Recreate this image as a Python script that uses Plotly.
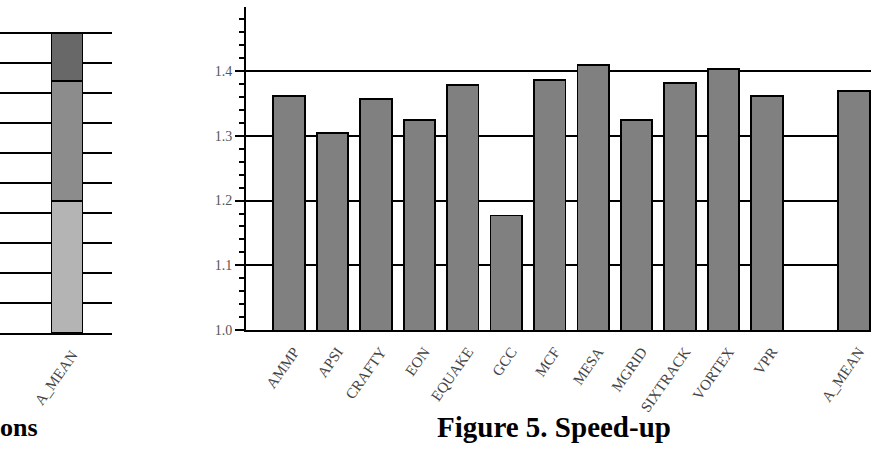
import plotly.graph_objects as go

# Main chart: Figure 5. Speed-up
categories = ["AMMP", "APSI", "CRAFTY", "EON", "EQUAKE", "GCC", "MCF", "MESA",
              "MGRID", "SIXTRACK", "VORTEX", "VPR", " ", "A_MEAN"]
speedup = [1.362, 1.305, 1.357, 1.325, 1.379, 1.177, 1.386, 1.410,
           1.324, 1.382, 1.403, 1.362, None, 1.369]
y_ticks = [1.0, 1.1, 1.2, 1.3, 1.4]

# Left (partially visible) stacked chart
left_categories = ["A_MEAN"]
left_bottom = [44]
left_middle = [40]
left_top = [16]

W, H = 871, 453
FONT = "Liberation Serif"

def px_x(p):
    return p / W

def px_y(p):
    return 1 - p / H

fig = go.Figure()

for vals, col, name in [(left_bottom, "#b4b4b4", "Part 1"),
                        (left_middle, "#8c8c8c", "Part 2"),
                        (left_top, "#686868", "Part 3")]:
    fig.add_trace(go.Bar(x=left_categories, y=vals, marker=dict(color=col, line=dict(color="black", width=1.8)),
                         width=0.71, xaxis="x", yaxis="y", name=name, showlegend=False))

fig.add_trace(go.Bar(x=categories, y=speedup, width=0.725,
                     marker=dict(color="#808080", line=dict(color="black", width=1.8)),
                     xaxis="x2", yaxis="y2", showlegend=False, name="Speed-up"))

unit = 43.45
main_left_px = 246
main_base_px = 336
per01 = 65.9
ytop_val = 1.4995
main_top_px = main_base_px - (ytop_val - 1.0) * 10 * per01

left_right_px = 112
left_base_px = 339.3
left_top_px = 33.3
left_ymax = 101.5
left_top_edge = left_base_px - (left_base_px - left_top_px) * left_ymax / 100

fig.update_layout(
    width=W, height=H,
    margin=dict(l=0, r=0, t=0, b=0),
    paper_bgcolor="white", plot_bgcolor="white",
    barmode="stack",
    showlegend=False,
    font=dict(family=FONT, color="#333333", size=15),
    xaxis=dict(domain=[0, px_x(left_right_px)], range=[-67 / unit, (left_right_px - 67) / unit],
               showline=True, linecolor="black", linewidth=2, showgrid=False, ticks="",
               tickangle=-55, tickfont=dict(family=FONT, size=15, color="#444444"),
               ticklabelstandoff=5, ticklabelshift=5,
               anchor="y", fixedrange=True),
    yaxis=dict(domain=[px_y(left_base_px), px_y(left_top_edge)], range=[0, left_ymax],
               tickvals=[0, 10, 20, 30, 40, 50, 60, 70, 80, 90, 100],
               showgrid=True, gridcolor="black", gridwidth=1.5,
               showticklabels=False, ticks="", showline=False, zeroline=False,
               anchor="x"),
    xaxis2=dict(domain=[px_x(main_left_px), 1], range=[-0.99, -0.99 + (W - main_left_px) / unit],
                showline=True, linecolor="black", linewidth=2, showgrid=False, ticks="",
                tickangle=-55, tickfont=dict(family=FONT, size=15, color="#444444"),
                ticklabelstandoff=5, ticklabelshift=5,
                anchor="y2"),
    yaxis2=dict(domain=[px_y(main_base_px), px_y(main_top_px)], range=[1.0, ytop_val],
                tickvals=y_ticks, tickformat=".1f", showgrid=True, gridcolor="black", gridwidth=1.5,
                showline=True, linecolor="black", linewidth=2, zeroline=False,
                ticks="outside", ticklen=9, tickwidth=1.5, tickcolor="black",
                minor=dict(dtick=0.02, tick0=1.0, ticks="outside", ticklen=5, tickwidth=1.5,
                           tickcolor="black", showgrid=False),
                tickfont=dict(family=FONT, size=14, color="#555555"),
                anchor="x2"),
    annotations=[
        dict(text="<b>Figure 5. Speed-up</b>", x=px_x(554), y=px_y(435), xref="paper", yref="paper",
             xanchor="center", yanchor="middle", showarrow=False,
             font=dict(family=FONT, size=29, color="black")),
        dict(text="<b>ons</b>", x=px_x(-2), y=px_y(435), xref="paper", yref="paper",
             xanchor="left", yanchor="middle", showarrow=False,
             font=dict(family=FONT, size=26, color="black")),
    ],
)

fig.write_html("out.html")
